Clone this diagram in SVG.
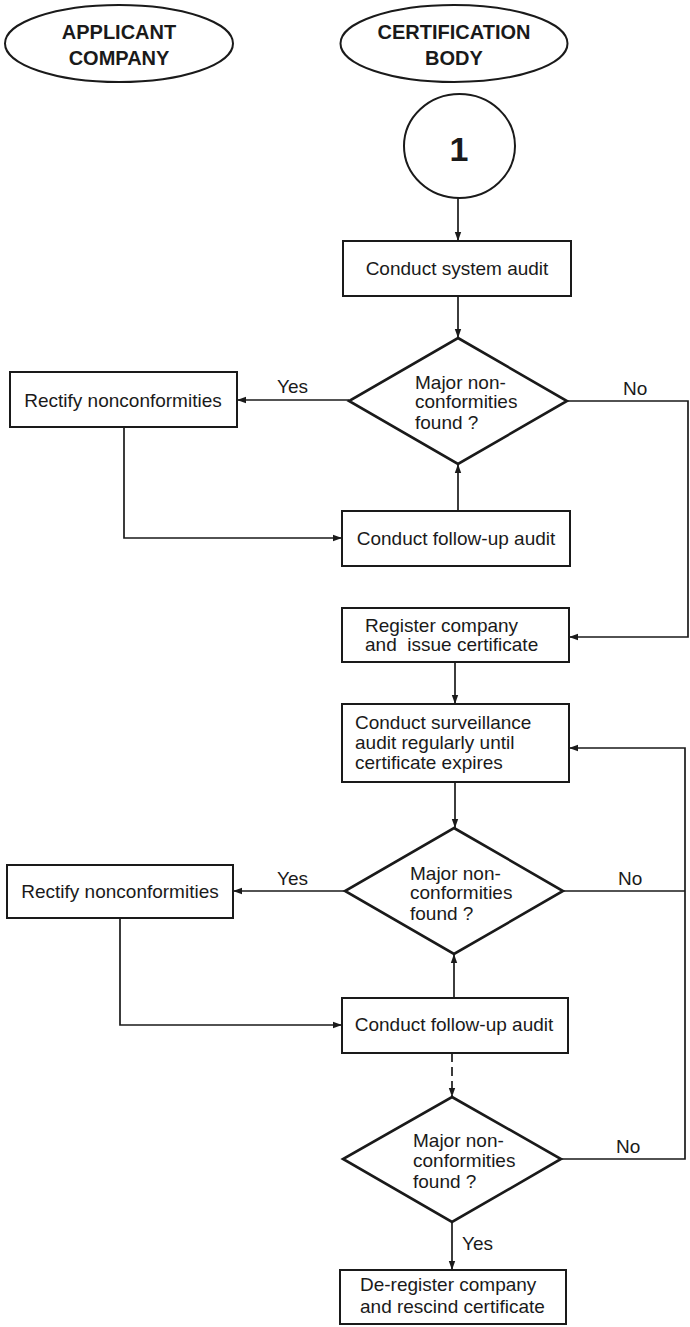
<svg xmlns="http://www.w3.org/2000/svg" width="690" height="1327" viewBox="0 0 690 1327">
  <defs>
    <marker id="arrow" markerUnits="userSpaceOnUse" markerWidth="10" markerHeight="8" refX="9" refY="4" orient="auto">
      <path d="M0,0.8 L9,4 L0,7.2 Z" fill="#1a1a1a"/>
    </marker>
    <style>
      .shape { fill: #fff; stroke: #1a1a1a; stroke-width: 2; }
      .dia { fill: #fff; stroke: #1a1a1a; stroke-width: 2.6; }
      .conn { fill: none; stroke: #1a1a1a; stroke-width: 1.7; }
      .dash { stroke-dasharray: 9 5; }
      .head { font-family: "Liberation Sans", Arial, sans-serif; font-size: 20px; font-weight: bold; fill: #1a1a1a; text-anchor: middle; }
      .lbl { font-family: "Liberation Sans", Arial, sans-serif; font-size: 19px; fill: #1a1a1a; }
      .mid { text-anchor: middle; }
    </style>
  </defs>
  <rect width="690" height="1327" fill="#fff"/>

  <!-- swimlane headers -->
  <g id="hdr-applicant">
    <ellipse class="shape" cx="119" cy="43.5" rx="114" ry="38.5"/>
    <text class="head" x="119" y="39">APPLICANT</text>
    <text class="head" x="119" y="65">COMPANY</text>
  </g>
  <g id="hdr-certbody">
    <ellipse class="shape" cx="454" cy="43.5" rx="113.5" ry="38.5"/>
    <text class="head" x="454" y="39">CERTIFICATION</text>
    <text class="head" x="454" y="65">BODY</text>
  </g>

  <!-- connectors -->
  <g id="connectors">
    <path class="conn" d="M458,198 L458,241" marker-end="url(#arrow)"/>
    <path class="conn" d="M458,296 L458,338" marker-end="url(#arrow)"/>
    <path class="conn" d="M349,400 L237,400" marker-end="url(#arrow)"/>
    <path class="conn" d="M124,427 L124,538 L342,538" marker-end="url(#arrow)"/>
    <path class="conn" d="M458,511 L458,464" marker-end="url(#arrow)"/>
    <path class="conn" d="M567,401 L688,401 L688,637 L569,637" marker-end="url(#arrow)"/>
    <path class="conn" d="M455,662 L455,704" marker-end="url(#arrow)"/>
    <path class="conn" d="M455,782 L455,828" marker-end="url(#arrow)"/>
    <path class="conn" d="M346,891 L233,891" marker-end="url(#arrow)"/>
    <path class="conn" d="M120,918 L120,1025 L342,1025" marker-end="url(#arrow)"/>
    <path class="conn" d="M454,998 L454,954" marker-end="url(#arrow)"/>
    <path class="conn" d="M563,891 L685,891"/>
    <path class="conn dash" d="M452,1053 L452,1097" marker-end="url(#arrow)"/>
    <path class="conn" d="M561,1159 L685,1159 L685,748 L569,748" marker-end="url(#arrow)"/>
    <path class="conn" d="M452,1222 L452,1270" marker-end="url(#arrow)"/>
    <text class="lbl" x="277" y="393">Yes</text>
    <text class="lbl" x="623" y="395">No</text>
    <text class="lbl" x="277" y="885">Yes</text>
    <text class="lbl" x="618" y="885">No</text>
    <text class="lbl" x="616" y="1153">No</text>
    <text class="lbl" x="462" y="1250">Yes</text>
  </g>

  <!-- connector entry point -->
  <g id="start">
    <ellipse class="shape" cx="459.5" cy="146" rx="55.5" ry="52"/>
    <text x="459" y="161" font-family="Liberation Sans, Arial, sans-serif" font-size="34" font-weight="bold" fill="#1a1a1a" text-anchor="middle">1</text>
  </g>

  <g id="system-audit">
    <rect class="shape" x="343" y="241" width="228" height="55"/>
    <text class="lbl mid" x="457" y="275">Conduct system audit</text>
  </g>

  <g id="decision-1">
    <polygon class="dia" points="458,338 567,401 458,464 349,401"/>
    <text class="lbl" x="415" y="389">Major non-</text>
    <text class="lbl" x="415" y="408">conformities</text>
    <text class="lbl" x="415" y="429">found  ?</text>
  </g>

  <g id="rectify-1">
    <rect class="shape" x="10" y="372" width="227" height="55"/>
    <text class="lbl mid" x="123" y="407">Rectify nonconformities</text>
  </g>

  <g id="followup-1">
    <rect class="shape" x="342" y="511" width="228" height="55"/>
    <text class="lbl mid" x="456" y="545">Conduct follow-up audit</text>
  </g>

  <g id="register">
    <rect class="shape" x="342" y="608" width="227" height="54"/>
    <text class="lbl" x="365" y="632">Register company</text>
    <text class="lbl" x="365" y="651" xml:space="preserve">and  issue certificate</text>
  </g>

  <g id="surveillance">
    <rect class="shape" x="342" y="704" width="227" height="78"/>
    <text class="lbl" x="355" y="729">Conduct surveillance</text>
    <text class="lbl" x="355" y="749">audit regularly until</text>
    <text class="lbl" x="355" y="769">certificate expires</text>
  </g>

  <g id="decision-2">
    <polygon class="dia" points="454,828 563,891 454,954 345,891"/>
    <text class="lbl" x="410" y="880">Major non-</text>
    <text class="lbl" x="410" y="899">conformities</text>
    <text class="lbl" x="410" y="920">found ?</text>
  </g>

  <g id="rectify-2">
    <rect class="shape" x="7" y="865" width="226" height="53"/>
    <text class="lbl mid" x="120" y="898">Rectify nonconformities</text>
  </g>

  <g id="followup-2">
    <rect class="shape" x="342" y="998" width="226" height="55"/>
    <text class="lbl mid" x="454" y="1031">Conduct follow-up audit</text>
  </g>

  <g id="decision-3">
    <polygon class="dia" points="452,1097 561,1159 452,1222 343,1159"/>
    <text class="lbl" x="413" y="1147">Major non-</text>
    <text class="lbl" x="413" y="1167">conformities</text>
    <text class="lbl" x="413" y="1188">found ?</text>
  </g>

  <g id="deregister">
    <rect class="shape" x="340" y="1270" width="226" height="54"/>
    <text class="lbl" x="360" y="1291">De-register company</text>
    <text class="lbl" x="360" y="1313">and rescind certificate</text>
  </g>
</svg>
